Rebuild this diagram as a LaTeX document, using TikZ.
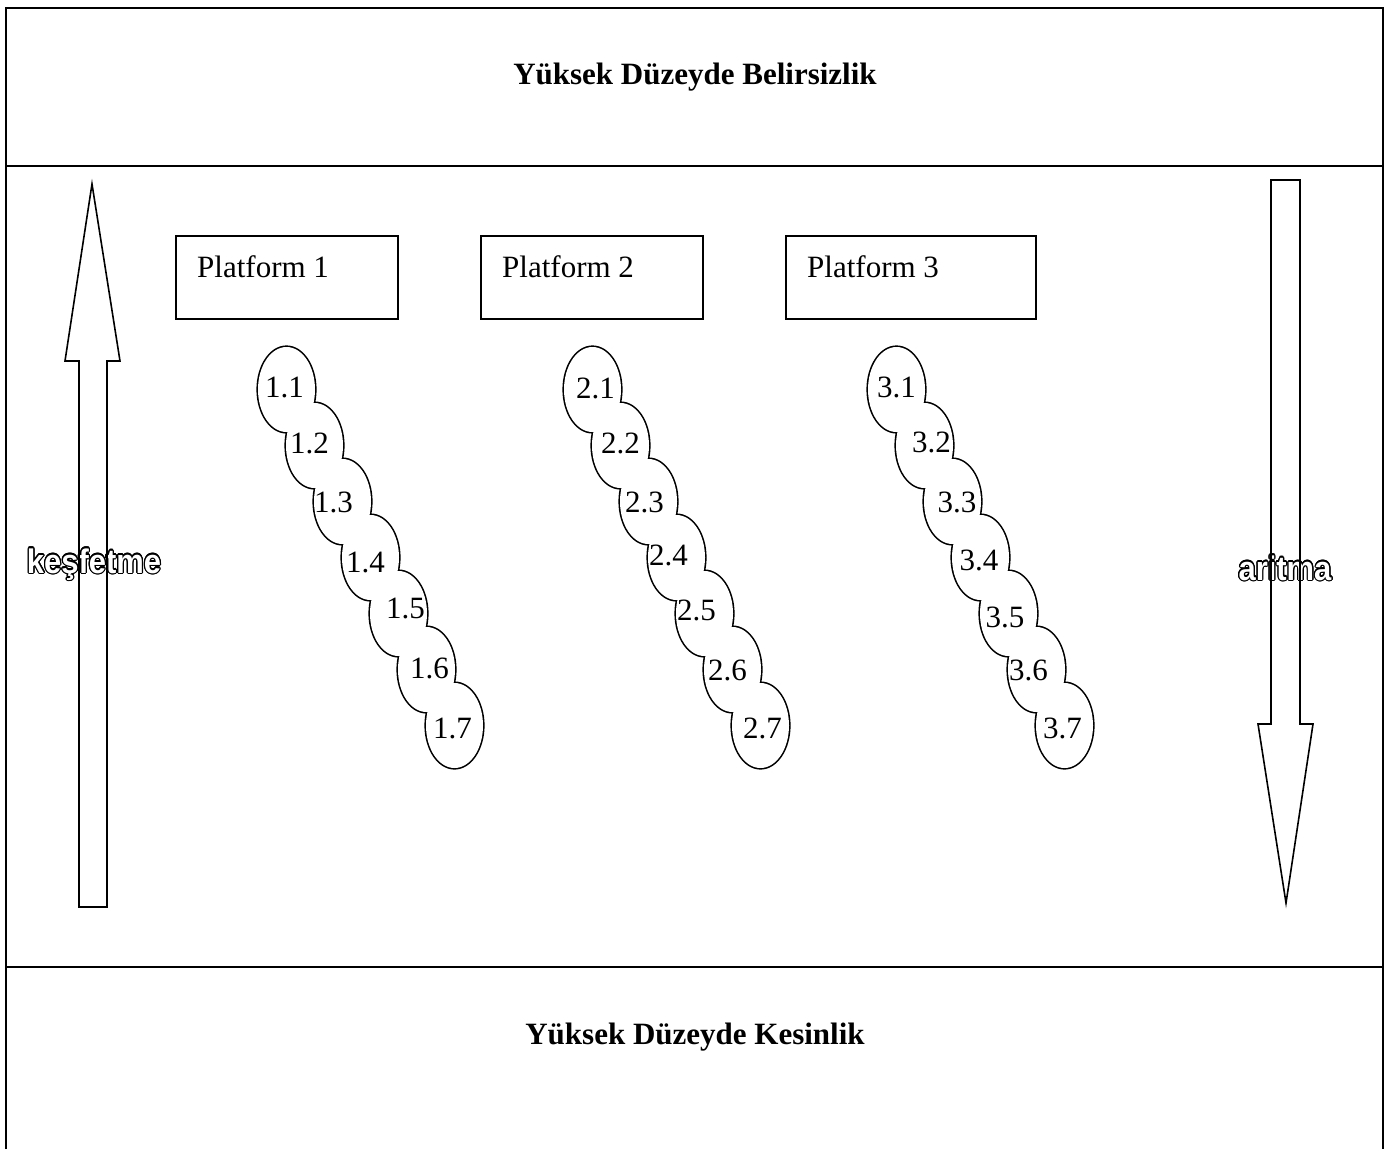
\documentclass[tikz,border=0pt]{standalone}
\usepackage{fontspec}
\setmainfont{Liberation Serif}
\newfontfamily\outfont{Liberation Sans}
\usepackage{contour}
\contourlength{1.3pt}
\usetikzlibrary{calc,shapes.geometric}

\begin{document}
\begin{tikzpicture}[x=1pt,y=-1pt,
    big/.style={font=\fontsize{31}{37}\selectfont, inner sep=0pt},
    head/.style={font=\fontsize{31}{37}\selectfont\bfseries, inner sep=0pt},
    side/.style={font=\fontsize{34}{40}\selectfont\outfont\bfseries, inner sep=0pt, anchor=base, xscale=.91, transform shape},
    platbox/.style={draw, line width=1.6pt, minimum height=83pt, inner sep=0pt},
    oval/.style={ellipse, minimum width=57pt, minimum height=85pt, inner sep=0pt}]
    \useasboundingbox (0,0) rectangle (1389,1149);
    % frame and the two bands
    \draw[line width=2.6pt] (6,1149) -- (6,8) -- (1383,8) -- (1383,1149);
    \draw[line width=2.4pt] (6,166) -- (1383,166);
    \draw[line width=2.4pt] (6,967) -- (1383,967);
    \node (top) at (695,77) [head] {Yüksek Düzeyde Belirsizlik};
    \node (bot) at (695,1037) [head] {Yüksek Düzeyde Kesinlik};
    % side words, under the arrows
    \node (kesf) at (94,573) [side] {\textcolor{white}{\contour{black}{keşfetme}}};
    \node (arit) at (1285,580) [side] {\textcolor{white}{\contour{black}{aritma}}};
    \draw[line width=1.6pt, line join=miter]
    (92,184) -- (120,361) -- (107,361) -- (107,907) -- (79,907) -- (79,361) -- (65,361) -- cycle;
    \draw[line width=1.6pt, line join=miter]
    (1271,180) -- (1300,180) -- (1300,724) -- (1313,724) -- (1286,903) -- (1258,724) -- (1271,724) -- cycle;
    % platforms
    \node (P1) at (287,277.5) [platbox, minimum width=222pt] {};
    \node (P2) at (592,277.5) [platbox, minimum width=222pt] {};
    \node (P3) at (911,277.5) [platbox, minimum width=250pt] {};
    \node (P1t) at (197,277) [big, anchor=base west] {Platform 1};
    \node (P2t) at (502,277) [big, anchor=base west] {Platform 2};
    \node (P3t) at (807,277) [big, anchor=base west] {Platform 3};
    % chains of ovals: thick outlines, then white fills give the joined outline
    \foreach \c/\cx in {1/286.5,2/592.5,3/896.5}
      \foreach \r in {1,...,7}
        \node (o\c\r) at ({\cx+28*(\r-1)},{389.5+56*(\r-1)}) [oval, draw, line width=3.2pt] {};
    \foreach \c in {1,2,3}
      \foreach \r in {1,...,7}
        \node at (o\c\r) [oval, fill=white] {};
    \foreach \c/\r/\dx/\dy in {1/1/-2/-2.5, 1/2/-5/-2.5, 1/3/-9/0.5, 1/4/-5/4.5, 1/5/7/-5.5, 1/6/3/-1.5, 1/7/-2/2.5,
      2/1/3/-1.5, 2/2/0/-2.5, 2/3/-4/0.5, 2/4/-8/-2.5, 2/5/-8/-3.5, 2/6/-5/0.5, 2/7/2/2.5,
      3/1/0/-2.5, 3/2/7/-3.5, 3/3/4.5/0.5, 3/4/-1.5/2.5, 3/5/-3.5/3.5, 3/6/-8/0.5, 3/7/-2/2.5}
      \node (t\c\r) at ($(o\c\r)+(\dx,\dy)$) [big] {\c.\r};
\end{tikzpicture}
\end{document}
